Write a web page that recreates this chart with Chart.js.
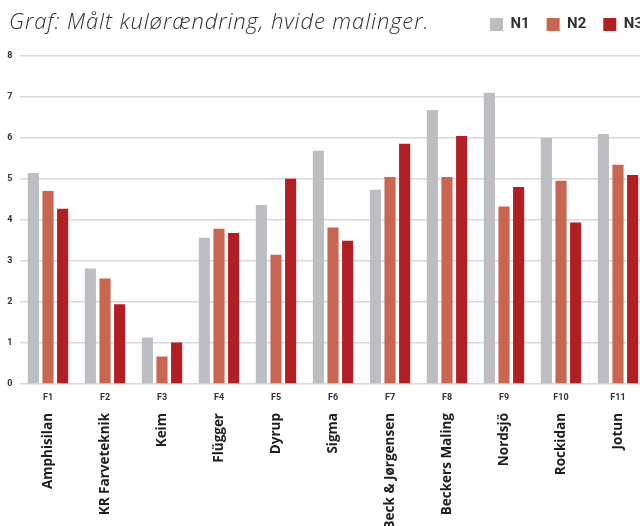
<!DOCTYPE html>
<html>
<head>
<meta charset="utf-8">
<script src="https://cdn.jsdelivr.net/npm/chart.js@4.4.1/dist/chart.umd.min.js"></script>
<style>
  body { margin: 0; width: 640px; height: 526px; overflow: hidden; background: #fff; }
  #wrap { position: relative; width: 660px; height: 526px; }
  #title {
    position: absolute; left: 9px; top: 5px;
    font-family: "Open Sans", sans-serif; font-style: italic; font-weight: 300;
    font-size: 22px; letter-spacing: 0.9px; color: #2e2e2e; white-space: nowrap;
  }
</style>
</head>
<body>
<div id="wrap">
  <canvas id="chart" width="660" height="526"></canvas>
  <div id="title">Graf: Målt kulørændring, hvide malinger.</div>
</div>
<script>
const context = document.getElementById("chart");

const codes = ["F1", "F2", "F3", "F4", "F5", "F6", "F7", "F8", "F9", "F10", "F11"];
const names = ["Amphisilan", "KR Farveteknik", "Keim", "Flügger", "Dyrup", "Sigma",
  "Beck & Jørgensen", "Beckers Maling", "Nordsjö", "Rockidan", "Jotun"];
const n1 = [5.14, 2.81, 1.13, 3.56, 4.36, 5.68, 4.73, 6.67, 7.09, 5.99, 6.09];
const n2 = [4.70, 2.57, 0.67, 3.78, 3.15, 3.81, 5.04, 5.04, 4.32, 4.95, 5.34];
const n3 = [4.27, 1.94, 1.01, 3.68, 5.00, 3.49, 5.85, 6.04, 4.80, 3.93, 5.09];
const yTicks = [0, 1, 2, 3, 4, 5, 6, 7, 8];

// empty axes used only as spacers
const spacer = (axis, pos, size) => ({
  type: "category",
  axis: axis,
  labels: [""],
  position: pos,
  grid: { display: false },
  border: { display: false },
  ticks: { display: false },
  afterFit: (scale) => {
    if (pos === "top") scale.height = size;
    else scale.width = size;
  },
});

const ids = { xAxisID: "x", yAxisID: "y" };

const chart = new Chart(context, {
  type: "bar",
  data: {
    labels: codes,
    datasets: [
      { label: "N1", data: n1, backgroundColor: "#bdbec1", ...ids },
      { label: "N2", data: n2, backgroundColor: "#c96651", ...ids },
      { label: "N3", data: n3, backgroundColor: "#b11f25", ...ids },
    ],
  },
  options: {
    responsive: false,
    animation: false,
    devicePixelRatio: 1,
    categoryPercentage: 0.77,
    barPercentage: 0.76,
    layout: {
      padding: 0,
    },
    scales: {
      y: {
        min: 0,
        max: 8,
        afterBuildTicks: (scale) => { scale.ticks = yTicks.map((v) => ({ value: v })); },
        grid: { color: "#d8d8d8", lineWidth: 1.5, drawTicks: false },
        border: { display: false },
        ticks: {
          color: "#333",
          padding: 7,
          font: { family: "Roboto", weight: "bold", size: 9 },
        },
        afterFit: (scale) => { scale.width = 19.5; },
      },
      x: {
        type: "category",
        grid: { display: false, drawTicks: false },
        border: { display: false },
        ticks: {
          color: "#333",
          padding: 8,
          font: { family: "Roboto", weight: "bold", size: 9 },
        },
        afterFit: (scale) => { scale.height = 20; },
      },
      names: {
        type: "category",
        axis: "x",
        labels: names,
        position: "bottom",
        grid: { display: false, drawTicks: false },
        border: { display: false },
        ticks: {
          color: "#1e1e1e",
          minRotation: 90,
          maxRotation: 90,
          padding: 9,
          autoSkip: false,
          font: { family: "'Open Sans'", weight: "bold", size: 13.5 },
        },
        afterFit: (scale) => { scale.height = 122; },
      },
      topSpace: spacer("x", "top", 13.5),
      rightSpace: spacer("y", "right", 13.5),
    },
    plugins: {
      legend: {
        position: "top",
        align: "end",
        labels: {
          boxWidth: 13,
          boxHeight: 13,
          color: "#333",
          padding: 17,
          font: { family: "Roboto", weight: "bold", size: 15 },
        },
      },
      tooltip: { enabled: false },
    },
  },
});
</script>
</body>
</html>
